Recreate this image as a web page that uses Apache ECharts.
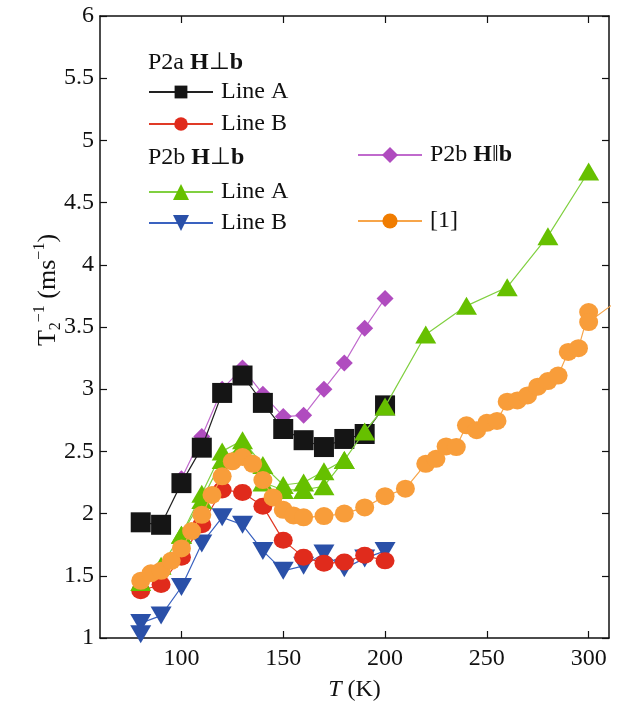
<!DOCTYPE html>
<html>
<head>
<meta charset="utf-8">
<script src="https://cdn.jsdelivr.net/npm/echarts@6/dist/echarts.min.js"></script>
<style>
  html, body { margin: 0; padding: 0; background: #fff; }
  #main { width: 619px; height: 701px; }
</style>
</head>
<body>
<div id="main"></div>
<script>
// 数据 -- [T (K), T2^-1 (ms^-1)]
const xTicks = [100, 150, 200, 250, 300];
const p2aLineA = [[80, 1.93], [90, 1.91], [100, 2.245], [110, 2.53], [120, 2.97], [130, 3.11], [140, 2.89], [150, 2.68], [160, 2.59], [170, 2.535], [180, 2.60], [190, 2.64], [200, 2.87]];
const p2aLineB = [[80, 1.38], [90, 1.43], [100, 1.65], [110, 1.91], [120, 2.19], [130, 2.17], [140, 2.06], [150, 1.785], [160, 1.65], [170, 1.60], [180, 1.61], [190, 1.665], [200, 1.62]];
const p2bLineA = [[80, 1.45], [90, 1.58], [100, 1.83], [110, 2.11], [120, 2.43], [130, 2.55], [140, 2.25], [150, 2.19], [160, 2.19], [170, 2.22], [180, 2.43], [190, 2.66], [200, 2.86], [220, 3.44], [240, 3.67], [260, 3.82], [280, 4.23], [300, 4.75]];
// 第二次测量 (同一图例)
const p2bLineA2 = [[100, 1.83], [110, 2.16], [120, 2.50], [130, 2.59], [140, 2.39], [150, 2.23], [160, 2.25], [170, 2.34], [180, 2.43]];
const p2bLineB = [[80, 1.03], [80, 1.12], [90, 1.18], [100, 1.41], [110, 1.76], [120, 1.97], [130, 1.91], [140, 1.70], [150, 1.54], [160, 1.58], [170, 1.68], [180, 1.56], [190, 1.64], [200, 1.70]];
const p2bPar = [[100, 2.28], [110, 2.62], [120, 3.00], [130, 3.17], [140, 2.96], [150, 2.78], [160, 2.79], [170, 3.00], [180, 3.21], [190, 3.49], [200, 3.73]];
const ref1 = [[80, 1.46], [85, 1.52], [90, 1.54], [95, 1.62], [100, 1.72], [105, 1.86], [110, 1.99], [115, 2.15], [120, 2.30], [125, 2.42], [130, 2.455], [135, 2.40], [140, 2.27], [145, 2.13], [150, 2.03], [155, 1.985], [160, 1.97], [170, 1.98], [180, 2.00], [190, 2.05], [200, 2.14], [210, 2.20], [220, 2.40], [225, 2.44], [230, 2.54], [235, 2.535], [240, 2.71], [245, 2.67], [250, 2.73], [255, 2.745], [260, 2.90], [265, 2.91], [270, 2.95], [275, 3.02], [280, 3.065], [285, 3.11], [290, 3.30], [295, 3.33], [300, 3.62], [300, 3.54], [320, 3.78]];

const FONT = '"Liberation Serif", "Times New Roman", serif';
const chart = echarts.init(document.getElementById('main'), null, { renderer: 'canvas' });

function lineSeries(name, data, symbol, size, markColor, lineColor, z, rotate) {
  return {
    name: name,
    type: 'line',
    data: data,
    symbol: symbol,
    symbolSize: size,
    symbolRotate: rotate || 0,
    showAllSymbol: true,
    clip: true,
    z: z,
    itemStyle: { color: markColor, opacity: 1 },
    lineStyle: { color: lineColor, width: 1.2 },
    emphasis: { disabled: true },
    animation: false
  };
}

// 图例 -- 每项单独放置
function legendItem(name, left, centerY, extra) {
  const h = (extra && extra.itemHeight) || 16;
  return Object.assign({
    data: [name],
    left: left,
    top: centerY - Math.max(h, 24) / 2,
    padding: 0,
    itemWidth: 64,
    itemHeight: 16,
    selectedMode: false,
    textStyle: { fontFamily: FONT, fontSize: 24, lineHeight: 24, color: '#111', padding: [0, 0, 0, 3] }
  }, extra || {});
}

const axisCommon = {
  axisLine: { show: true, onZero: false, lineStyle: { color: '#111', width: 1.5 } },
  axisTick: { show: true, inside: true, length: 7, lineStyle: { color: '#111', width: 1.2 } },
  splitLine: { show: false }
};

const option = {
  backgroundColor: '#fff',
  animation: false,
  grid: { left: 100, right: 10, top: 16, bottom: 63, outerBoundsMode: 'none', containLabel: false },
  xAxis: [
    Object.assign({}, axisCommon, {
      type: 'value', min: 60, max: 310, position: 'bottom',
      axisTick: Object.assign({}, axisCommon.axisTick, { customValues: xTicks }),
      axisLabel: { customValues: xTicks, fontFamily: FONT, fontSize: 24, color: '#111', margin: 9 },
      name: '{i|T} (K)', nameLocation: 'middle', nameGap: 40,
      nameTextStyle: {
        fontFamily: FONT, fontSize: 24, color: '#111',
        rich: { i: { fontFamily: FONT, fontSize: 24, fontStyle: 'italic', color: '#111' } }
      }
    }),
    Object.assign({}, axisCommon, {
      type: 'value', min: 60, max: 310, position: 'top',
      axisTick: Object.assign({}, axisCommon.axisTick, { customValues: xTicks }),
      axisLabel: { show: false }
    })
  ],
  yAxis: [
    Object.assign({}, axisCommon, {
      type: 'value', min: 1, max: 6, interval: 0.5, position: 'left',
      axisLabel: { fontFamily: FONT, fontSize: 24, color: '#111', margin: 6 }
    }),
    Object.assign({}, axisCommon, {
      type: 'value', min: 1, max: 6, interval: 0.5, position: 'right',
      axisLabel: { show: false }
    })
  ],
  legend: [
    legendItem('P2a Line A', 148, 92, { formatter: () => 'Line A' }),
    legendItem('P2a Line B', 148, 124, { formatter: () => 'Line B', itemHeight: 17 }),
    legendItem('P2b Line A', 148, 192, { formatter: () => 'Line A', itemHeight: 20 }),
    legendItem('P2b Line B', 148, 223, { formatter: () => 'Line B', itemHeight: 20 }),
    legendItem('P2b H||b', 357, 155, {
      itemHeight: 20,
      formatter: () => '{n|P2b }{b|H}{n|‖}{b|b}',
      textStyle: {
        fontFamily: FONT, fontSize: 24, lineHeight: 24, color: '#111', padding: [0, 0, 0, 3],
        rich: {
          n: { fontFamily: FONT, fontSize: 24, color: '#111' },
          b: { fontFamily: FONT, fontSize: 24, fontWeight: 'bold', color: '#111' }
        }
      }
    }),
    legendItem('[1]', 357, 221, { itemHeight: 19, itemStyle: { color: '#f07c00' } })
  ],
  graphic: [
    {
      type: 'text', left: 148, top: 51,
      style: {
        text: '{n|P2a }{b|H}{n|⊥}{b|b}',
        rich: {
          n: { fontFamily: FONT, fontSize: 24, fill: '#111' },
          b: { fontFamily: FONT, fontSize: 24, fontWeight: 'bold', fill: '#111' }
        }
      }
    },
    {
      type: 'text', left: 148, top: 146,
      style: {
        text: '{n|P2b }{b|H}{n|⊥}{b|b}',
        rich: {
          n: { fontFamily: FONT, fontSize: 24, fill: '#111' },
          b: { fontFamily: FONT, fontSize: 24, fontWeight: 'bold', fill: '#111' }
        }
      }
    },
    {
      type: 'text', x: 48, y: 290, rotation: Math.PI / 2,
      style: {
        text: '{a|T}{sub|2}{sup|−1}{a| (ms}{sup|−1}{a|)}',
        align: 'center', verticalAlign: 'middle',
        rich: {
          a: { fontFamily: FONT, fontSize: 26, lineHeight: 32, fill: '#111', verticalAlign: 'middle' },
          sub: { fontFamily: FONT, fontSize: 16, lineHeight: 16, fill: '#111', verticalAlign: 'bottom' },
          sup: { fontFamily: FONT, fontSize: 16, lineHeight: 16, fill: '#111', verticalAlign: 'top' }
        }
      }
    }
  ],
  series: [
    lineSeries('P2b Line B', p2bLineB, 'triangle', [21, 18], '#2a50a8', '#3a62c0', 2, 180),
    lineSeries('P2b H||b', p2bPar, 'diamond', 17, '#b04cbf', '#c06acd', 3),
    lineSeries('P2a Line A', p2aLineA, 'rect', 20, '#151515', '#222', 4),
    lineSeries('P2a Line B', p2aLineB, 'circle', [19, 17], '#e02b1c', '#e03a26', 5),
    lineSeries('P2b Line A', p2bLineA2, 'triangle', [21, 18], '#66c000', '#80d040', 6),
    lineSeries('P2b Line A', p2bLineA, 'triangle', [21, 18], '#66c000', '#80d040', 6),
    lineSeries('[1]', ref1, 'circle', [19, 18], '#f89d3a', '#f7a54a', 7)
  ]
};

chart.setOption(option);
</script>
</body>
</html>
